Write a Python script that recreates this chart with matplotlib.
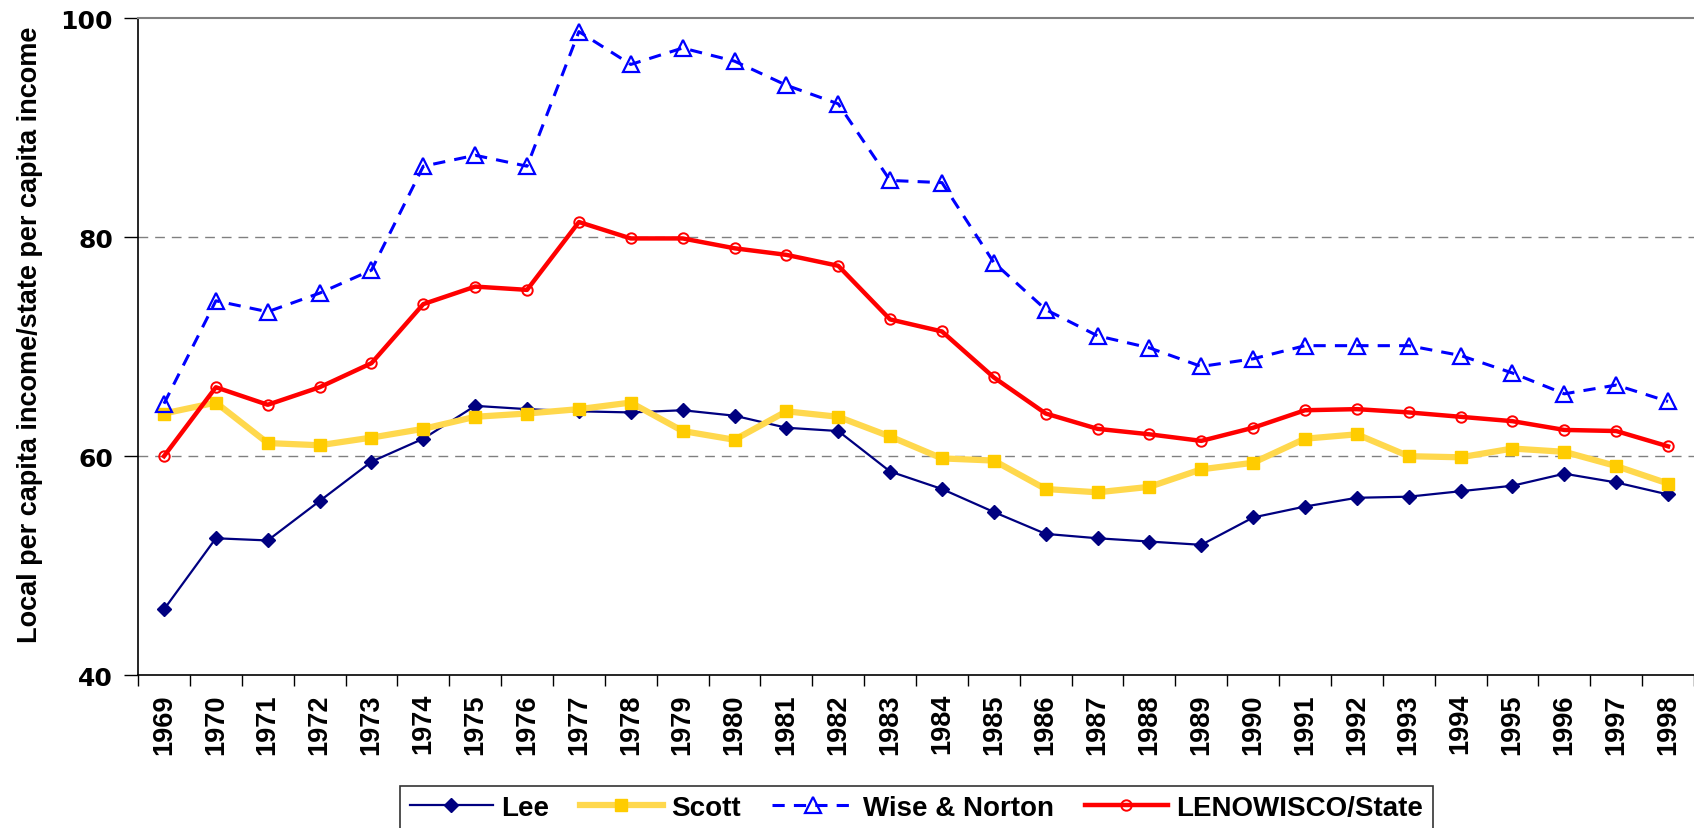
import numpy as np
import matplotlib
matplotlib.use("Agg")
import matplotlib.pyplot as plt
from matplotlib.ticker import FixedLocator, NullFormatter

years = list(range(1969, 1999))
lee = [46.0, 52.5, 52.3, 55.9, 59.5, 61.6, 64.6, 64.3, 64.1, 64.0,
       64.2, 63.7, 62.6, 62.3, 58.6, 57.0, 54.9, 52.9, 52.5, 52.2,
       51.9, 54.4, 55.4, 56.2, 56.3, 56.8, 57.3, 58.4, 57.6, 56.5]
scott = [63.9, 64.9, 61.2, 61.0, 61.7, 62.5, 63.6, 63.9, 64.3, 64.9,
         62.3, 61.5, 64.1, 63.6, 61.8, 59.8, 59.6, 57.0, 56.7, 57.2,
         58.8, 59.4, 61.6, 62.0, 60.0, 59.9, 60.7, 60.4, 59.1, 57.5]
wise_norton = [64.8, 74.2, 73.2, 74.9, 77.0, 86.5, 87.5, 86.5, 98.8, 95.8,
               97.3, 96.1, 93.9, 92.2, 85.2, 85.0, 77.7, 73.4, 71.0, 69.9,
               68.2, 68.9, 70.1, 70.1, 70.1, 69.2, 67.6, 65.7, 66.5, 65.0]
lenowisco = [60.0, 66.3, 64.7, 66.3, 68.5, 73.9, 75.5, 75.2, 81.4, 79.9,
             79.9, 79.0, 78.4, 77.4, 72.5, 71.4, 67.2, 63.9, 62.5, 62.0,
             61.4, 62.6, 64.2, 64.3, 64.0, 63.6, 63.2, 62.4, 62.3, 60.9]
y_ticks = [40, 60, 80, 100]

plt.rcParams['font.family'] = ['Liberation Sans', 'DejaVu Sans']

fig = plt.figure(figsize=(16.94, 8.29), dpi=100)
ax = fig.add_axes([0.0815, 0.1845, 0.9185, 0.792])

x = np.arange(len(years))
ax.plot(x, lee, color="#000080", lw=1.6, marker="D", ms=7,
        mfc="#000080", mec="#000080", label="Lee", zorder=3)
ax.plot(x, scott, color="#FFD84D", lw=4.5, marker="s", ms=8,
        mfc="#FFCC00", mec="#FFCC00", label="Scott", zorder=4)
ax.plot(x, wise_norton, color="#0000FF", lw=2.2, ls=(0, (4, 3)), marker="^",
        ms=11, mfc="none", mec="#0000FF", mew=1.6, label="Wise & Norton", zorder=5)
ax.plot(x, lenowisco, color="#FF0000", lw=3.2, marker="o", ms=7.5,
        mfc="none", mec="#FF0000", mew=1.4, label="LENOWISCO/State", zorder=6)

ax.set_xlim(-0.5, len(years) - 0.5)
ax.set_ylim(40, 100)
ax.set_yticks(y_ticks)
ax.set_yticklabels([str(v) for v in y_ticks], fontsize=18, fontweight="heavy",
                   family="DejaVu Sans")
for v in [60, 80]:
    ax.axhline(v, color="#808080", lw=1, ls=(0, (7, 5)), zorder=1)

ax.set_xticks(x)
ax.set_xticklabels([str(y) for y in years], rotation=90, fontsize=19.5,
                   fontweight="bold")
ax.xaxis.set_minor_locator(FixedLocator(np.arange(-0.5, len(years), 1.0)))
ax.xaxis.set_minor_formatter(NullFormatter())
ax.tick_params(axis="x", which="major", length=0, pad=13)
ax.tick_params(axis="x", which="minor", length=8, width=1, color="black")
ax.tick_params(axis="y", length=10, width=1, pad=8)

ax.spines["right"].set_visible(False)
ax.spines["top"].set_color("#808080")
ax.spines["top"].set_linewidth(1.5)
ax.spines["left"].set_linewidth(1.2)
ax.spines["bottom"].set_linewidth(1.2)

ax.set_ylabel("Local per capita income/state per capita income", fontsize=19.5,
              fontweight="bold")
ax.yaxis.set_label_coords(-0.061, 0.52)

leg = fig.legend(loc="upper center", bbox_to_anchor=(0.541, 0.0507), ncol=4,
                 frameon=True, fancybox=False, edgecolor="black",
                 prop={"weight": "bold", "size": 20}, handlelength=3.0,
                 columnspacing=1.1, handletextpad=0.3, borderpad=0.33,
                 borderaxespad=0)
leg.get_frame().set_linewidth(1.2)

fig.savefig("out.png", dpi=100)
